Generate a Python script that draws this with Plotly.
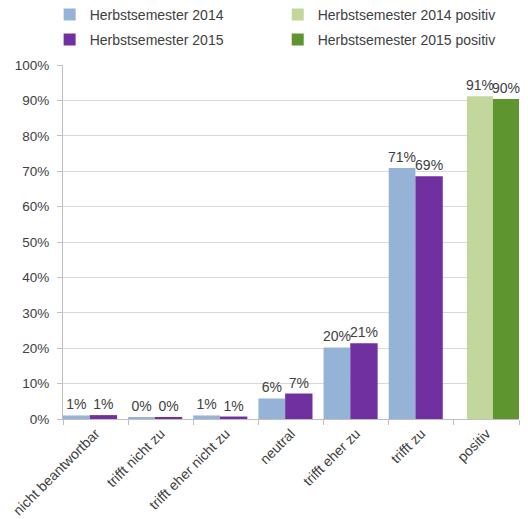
import plotly.graph_objects as go

categories = ["nicht beantwortbar", "trifft nicht zu", "trifft eher nicht zu",
              "neutral", "trifft eher zu", "trifft zu", "positiv"]
hs2014 = [1.0, 0.3, 1.0, 5.8, 20.2, 70.9]
hs2015 = [1.1, 0.3, 0.7, 7.2, 21.4, 68.6]
pos_cat = ["positiv"]
hs2014_pos = [91.2]
hs2015_pos = [90.4]

series = [
    ("Herbstsemester 2014", categories[:6], hs2014, "#95b3d7", -0.5, 0.41, "legend"),
    ("Herbstsemester 2014 positiv", pos_cat, hs2014_pos, "#c3d69b", -0.3, 0.40, "legend2"),
    ("Herbstsemester 2015", categories[:6], hs2015, "#7030a0", -0.09, 0.42, "legend3"),
    ("Herbstsemester 2015 positiv", pos_cat, hs2015_pos, "#5f952f", 0.1, 0.40, "legend4"),
]

fig = go.Figure()
for name, xs, ys, color, off, w, lg in series:
    fig.add_trace(go.Bar(
        name=name, x=xs, y=ys, marker=dict(color=color, line=dict(width=0)),
        offset=off, width=w, legend=lg,
        text=[f"{round(v)}%" for v in ys], textposition="outside",
        constraintext="none", cliponaxis=False,
        textfont=dict(family="Liberation Sans, Arial", size=14, color="#404040"),
    ))

legend_common = dict(orientation="h", xref="container", yref="container",
                     xanchor="left", yanchor="middle", itemwidth=30,
                     font=dict(size=14, color="#404040"),
                     traceorder="normal", bgcolor="rgba(0,0,0,0)")

col1, col2 = 0.094, 0.526
row1, row2 = 1 - 15 / 519, 1 - 40 / 519

fig.update_layout(
    width=528, height=519,
    margin=dict(l=63, r=9, t=65, b=100, autoexpand=False),
    paper_bgcolor="white", plot_bgcolor="white",
    barmode="overlay",
    font=dict(family="Liberation Sans, Arial", size=13, color="#404040"),
    showlegend=True,
    legend=dict(legend_common, x=col1, y=row1),
    legend2=dict(legend_common, x=col2, y=row1),
    legend3=dict(legend_common, x=col1, y=row2),
    legend4=dict(legend_common, x=col2, y=row2),
    xaxis=dict(categoryorder="array", categoryarray=categories,
               tickangle=-45, tickson="boundaries", ticks="outside", ticklen=5,
               tickcolor="#bfbfbf", showline=True, linecolor="#bfbfbf",
               linewidth=1, showgrid=False, tickfont=dict(size=14, color="#404040"),
               range=[-0.5, 6.5]),
    yaxis=dict(range=[0, 100], dtick=10, ticksuffix="%", showgrid=True,
               gridcolor="#d9d9d9", gridwidth=1, showline=True, linecolor="#bfbfbf",
               ticks="outside", ticklen=5, tickcolor="#bfbfbf", zeroline=False,
               ticklabelstandoff=5,
               tickfont=dict(size=13.5, color="#404040")),
)
fig.write_html("out.html")
